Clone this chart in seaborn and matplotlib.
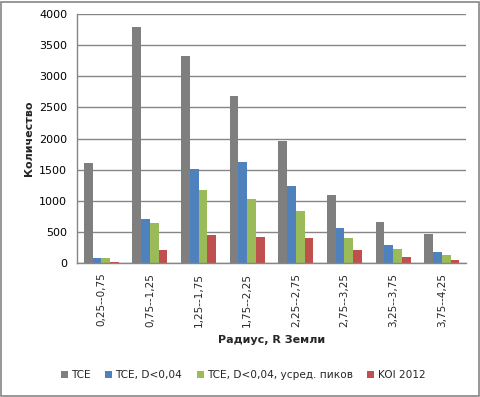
import matplotlib
matplotlib.use("Agg")
import matplotlib.pyplot as plt
import seaborn as sns
import pandas as pd
import numpy as np

categories = ["0,25--0,75", "0,75--1,25", "1,25--1,75", "1,75--2,25",
              "2,25--2,75", "2,75--3,25", "3,25--3,75", "3,75--4,25"]
tce = [1600, 3800, 3330, 2690, 1960, 1095, 660, 470]
tce_d = [85, 710, 1515, 1625, 1240, 565, 290, 180]
tce_d_avg = [85, 650, 1175, 1030, 840, 405, 225, 130]
koi2012 = [15, 215, 450, 420, 405, 215, 95, 48]
series_names = ["TCE", "TCE, D<0,04", "TCE, D<0,04, усред. пиков", "KOI 2012"]
colors = ["#7F7F7F", "#4F81BD", "#9BBB59", "#C0504D"]

rows = []
for name, vals in zip(series_names, [tce, tce_d, tce_d_avg, koi2012]):
    for c, v in zip(categories, vals):
        rows.append({"cat": c, "series": name, "value": v})
df = pd.DataFrame(rows)

sns.set_theme(style="white")
plt.rcParams['font.family'] = ['DejaVu Sans']

fig = plt.figure(figsize=(4.81, 3.97), dpi=100)
ax = fig.add_axes([0.160, 0.3375, 0.809, 0.627])
sns.barplot(data=df, x="cat", y="value", hue="series", palette=colors,
            order=categories, hue_order=series_names, width=0.72,
            saturation=1, linewidth=0, edgecolor="none", ax=ax, legend=True)

ax.set_ylim(0, 4000)
ax.set_yticks(range(0, 4001, 500))
ax.set_xlim(-0.5, len(categories) - 0.5)
ax.yaxis.grid(True, color="#868686", linewidth=1)
ax.set_axisbelow(True)
for s in ["top", "right"]:
    ax.spines[s].set_visible(False)
for s in ["left", "bottom"]:
    ax.spines[s].set_color("#868686")
    ax.spines[s].set_linewidth(1)

ax.tick_params(axis="y", labelsize=8, length=0, pad=7, colors="black")
ax.tick_params(axis="x", which="major", labelsize=7.5, length=0, pad=7, rotation=90)
ax.set_xticks(np.arange(-0.5, len(categories), 1.0), minor=True)
ax.tick_params(axis="x", which="minor", length=4, color="#868686", direction="out")

ax.set_xlabel("Радиус, R Земли", fontsize=8, fontweight="bold", labelpad=6)
ax.set_ylabel("Количество", fontsize=8, fontweight="bold", labelpad=4)

handles, labels = ax.get_legend_handles_labels()
ax.get_legend().remove()
fig.legend(handles, labels, loc="center", bbox_to_anchor=(0.505, 0.055), ncol=4,
           frameon=False, fontsize=7.6, handlelength=0.65, handleheight=0.65,
           handletextpad=0.3, columnspacing=1.4)

border = plt.Rectangle((0.002, 0.003), 0.994, 0.992, transform=fig.transFigure,
                       fill=False, edgecolor="#868686", linewidth=1.2)
fig.patches.append(border)

fig.savefig("out.png", dpi=100)
